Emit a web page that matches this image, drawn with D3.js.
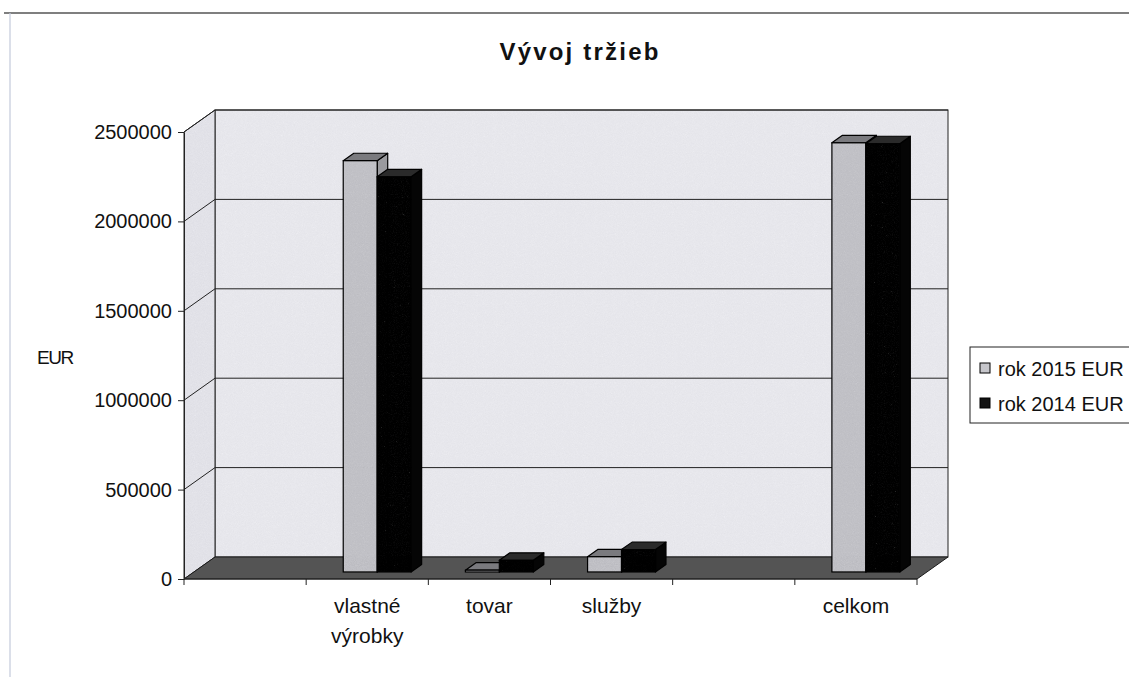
<!DOCTYPE html>
<html>
<head>
<meta charset="utf-8">
<script src="https://cdn.jsdelivr.net/npm/d3@7"></script>
<style>
  body { margin: 0; background: #fff; }
  svg text { font-family: "Liberation Sans", Arial, sans-serif; fill: #111; }
</style>
</head>
<body>
<div id="chart"></div>
<script>
// data
var categories = ["", "vlastné výrobky", "tovar", "služby", "", "celkom"];
var series = ["rok 2015 EUR", "rok 2014 EUR"];
var values2015 = [null, 2300000, 10000, 85000, null, 2400000];
var values2014 = [null, 2210000, 65000, 125000, null, 2395000];
var yTicks = [0, 500000, 1000000, 1500000, 2000000, 2500000];

(function () {
    var width = 1129, height = 677;
    var plot = { left: 184, right: 917, top: 132, bottom: 579 };
    var DX = 31, DY = -22;          // depth of the 3d box
    var f0 = 0.32, f1 = 0.66;       // where the bars sit inside that depth

    var svg = d3.select("#chart").append("svg")
        .attr("width", width)
        .attr("height", height);

    // a bit of scanner grain
    var filt = svg.append("defs").append("filter").attr("id", "grain")
        .attr("x", 0).attr("y", 0).attr("width", 1).attr("height", 1);
    filt.append("feTurbulence").attr("type", "fractalNoise").attr("baseFrequency", 0.9)
        .attr("numOctaves", 2).attr("seed", 4).attr("result", "n");
    filt.append("feColorMatrix").attr("in", "n").attr("type", "saturate").attr("values", 0).attr("result", "g");
    filt.append("feComposite").attr("in", "SourceGraphic").attr("in2", "g").attr("operator", "arithmetic")
        .attr("k1", 0).attr("k2", 1).attr("k3", 0.16).attr("k4", -0.08).attr("result", "m");
    filt.append("feComposite").attr("in", "m").attr("in2", "SourceGraphic").attr("operator", "in");

    var x = d3.scaleBand()
        .domain(d3.range(categories.length))
        .range([plot.left, plot.right])
        .padding(0);

    var x1 = d3.scaleBand()
        .domain(series)
        .range([0, x.bandwidth()])
        .paddingInner(0)
        .paddingOuter(0.8);

    var y = d3.scaleLinear()
        .domain([0, 2500000])
        .range([plot.bottom, plot.top]);

    var colors = {
        "rok 2015 EUR": { front: "#c6c6cb", top: "#7a7a7e", side: "#9a9a9e" },
        "rok 2014 EUR": { front: "#131313", top: "#2a2a2a", side: "#050505" }
    };

    // page frame (scan border)
    svg.append("line")
        .attr("x1", 4).attr("x2", width).attr("y1", 13).attr("y2", 13)
        .attr("stroke", "#555").attr("stroke-width", 1.5);
    svg.append("line")
        .attr("x1", 10).attr("x2", 10).attr("y1", 13).attr("y2", height)
        .attr("stroke", "#c3cada").attr("stroke-width", 1.2);

    // title
    svg.append("text")
        .attr("x", 580).attr("y", 60)
        .attr("text-anchor", "middle")
        .style("font-size", "24px")
        .style("font-weight", "bold")
        .style("letter-spacing", "2.2px")
        .text("Vývoj tržieb");

    var bx0 = plot.left + DX, bx1 = plot.right + DX;
    var by0 = y(2500000) + DY, by1 = y(0) + DY;

    // back wall
    svg.append("rect")
        .attr("x", bx0).attr("y", by0)
        .attr("width", bx1 - bx0).attr("height", by1 - by0)
        .attr("fill", "#ebebf0")
        .attr("filter", "url(#grain)");
    svg.append("rect")
        .attr("x", bx0).attr("y", by0)
        .attr("width", bx1 - bx0).attr("height", by1 - by0)
        .attr("fill", "none")
        .attr("stroke", "#222").attr("stroke-width", 1);

    // left wall
    var wallPts = [[plot.left, y(2500000)], [bx0, by0], [bx0, by1], [plot.left, y(0)]].join(" ");
    svg.append("polygon")
        .attr("points", wallPts)
        .attr("fill", "#e6e6ec")
        .attr("filter", "url(#grain)");
    svg.append("polygon")
        .attr("points", wallPts)
        .attr("fill", "none")
        .attr("stroke", "#222").attr("stroke-width", 1);

    // gridlines on both walls
    var grid = svg.append("g");
    yTicks.forEach(function (t) {
        if (t === 0) return;
        grid.append("line")
            .attr("x1", bx0).attr("x2", bx1)
            .attr("y1", y(t) + DY).attr("y2", y(t) + DY)
            .attr("stroke", "#222").attr("stroke-width", 1);
        grid.append("line")
            .attr("x1", plot.left).attr("x2", bx0)
            .attr("y1", y(t)).attr("y2", y(t) + DY)
            .attr("stroke", "#222").attr("stroke-width", 1);
    });

    // floor
    svg.append("polygon")
        .attr("points", [[plot.left, y(0)], [plot.right, y(0)], [bx1, by1], [bx0, by1]].join(" "))
        .attr("fill", "#545454")
        .attr("stroke", "#1a1a1a").attr("stroke-width", 1);

    // bars
    var rows = [];
    categories.forEach(function (c, i) {
        [values2015, values2014].forEach(function (vals, s) {
            if (vals[i] != null) rows.push({ i: i, s: series[s], v: vals[i] });
        });
    });

    var ddx = DX * (f1 - f0), ddy = DY * (f1 - f0);
    var bars = svg.append("g").selectAll("g.bar")
        .data(rows)
        .enter().append("g")
        .attr("class", "bar");

    function geo(d) {
        var l = x(d.i) + x1(d.s) + DX * f0;
        var r = l + x1.bandwidth();
        var b = y(0) + DY * f0;
        var t = y(d.v) + DY * f0;
        return { l: l, r: r, b: b, t: t };
    }

    bars.append("polygon")
        .attr("points", function (d) {
            var g = geo(d);
            return [[g.r, g.t], [g.r + ddx, g.t + ddy], [g.r + ddx, g.b + ddy], [g.r, g.b]].join(" ");
        })
        .attr("fill", function (d) { return colors[d.s].side; })
        .attr("stroke", "#000").attr("stroke-width", 1.2).attr("stroke-linejoin", "round");

    bars.append("polygon")
        .attr("points", function (d) {
            var g = geo(d);
            return [[g.l, g.t], [g.r, g.t], [g.r + ddx, g.t + ddy], [g.l + ddx, g.t + ddy]].join(" ");
        })
        .attr("fill", function (d) { return colors[d.s].top; })
        .attr("stroke", "#000").attr("stroke-width", 1.2).attr("stroke-linejoin", "round");

    bars.append("rect")
        .attr("x", function (d) { return geo(d).l; })
        .attr("y", function (d) { return geo(d).t; })
        .attr("width", x1.bandwidth())
        .attr("height", function (d) { var g = geo(d); return g.b - g.t; })
        .attr("fill", function (d) { return colors[d.s].front; })
        .attr("filter", "url(#grain)");

    bars.append("rect")
        .attr("x", function (d) { return geo(d).l; })
        .attr("y", function (d) { return geo(d).t; })
        .attr("width", x1.bandwidth())
        .attr("height", function (d) { var g = geo(d); return g.b - g.t; })
        .attr("fill", "none")
        .attr("stroke", "#000").attr("stroke-width", 1.2);

    // y axis
    var yAxis = svg.append("g")
        .attr("transform", "translate(" + plot.left + ",0)")
        .call(d3.axisLeft(y).tickValues(yTicks).tickSize(6).tickSizeOuter(0).tickPadding(6).tickFormat(d3.format("d")));
    yAxis.select(".domain").attr("stroke", "#222");
    yAxis.selectAll(".tick line").attr("stroke", "#222");
    yAxis.selectAll("text")
        .style("font-size", "20px")
        .style("font-family", "'Liberation Sans', Arial, sans-serif")
        .attr("fill", "#111");

    svg.append("text")
        .attr("x", 37).attr("y", 364)
        .style("font-size", "19px")
        .style("letter-spacing", "-1.5px")
        .text("EUR");

    // x axis: ticks on category boundaries, labels centred
    var xg = svg.append("g");
    xg.append("line")
        .attr("x1", plot.left).attr("x2", plot.right)
        .attr("y1", y(0)).attr("y2", y(0))
        .attr("stroke", "#222");
    d3.range(categories.length + 1).forEach(function (k) {
        var px = k < categories.length ? x(k) : plot.right;
        xg.append("line")
            .attr("x1", px).attr("x2", px)
            .attr("y1", y(0)).attr("y2", y(0) + 6)
            .attr("stroke", "#222");
    });
    categories.forEach(function (c, i) {
        if (!c) return;
        var t = xg.append("text")
            .attr("x", x(i) + x.bandwidth() / 2)
            .attr("y", 613)
            .attr("text-anchor", "middle")
            .style("font-size", "21px");
        c.split(" ").forEach(function (w, j) {
            t.append("tspan")
                .attr("x", x(i) + x.bandwidth() / 2)
                .attr("dy", j === 0 ? 0 : 30)
                .text(w);
        });
    });

    // legend
    var lg = svg.append("g").attr("transform", "translate(970,347)");
    lg.append("rect")
        .attr("width", 175).attr("height", 76)
        .attr("fill", "#fff")
        .attr("stroke", "#222").attr("stroke-width", 1);
    series.forEach(function (s, k) {
        lg.append("rect")
            .attr("x", 10).attr("y", 16 + k * 35)
            .attr("width", 10).attr("height", 10)
            .attr("fill", colors[s].front)
            .attr("stroke", "#000");
        lg.append("text")
            .attr("x", 28).attr("y", 29 + k * 35)
            .style("font-size", "20px")
            .text(s);
    });
})()
</script>
</body>
</html>
